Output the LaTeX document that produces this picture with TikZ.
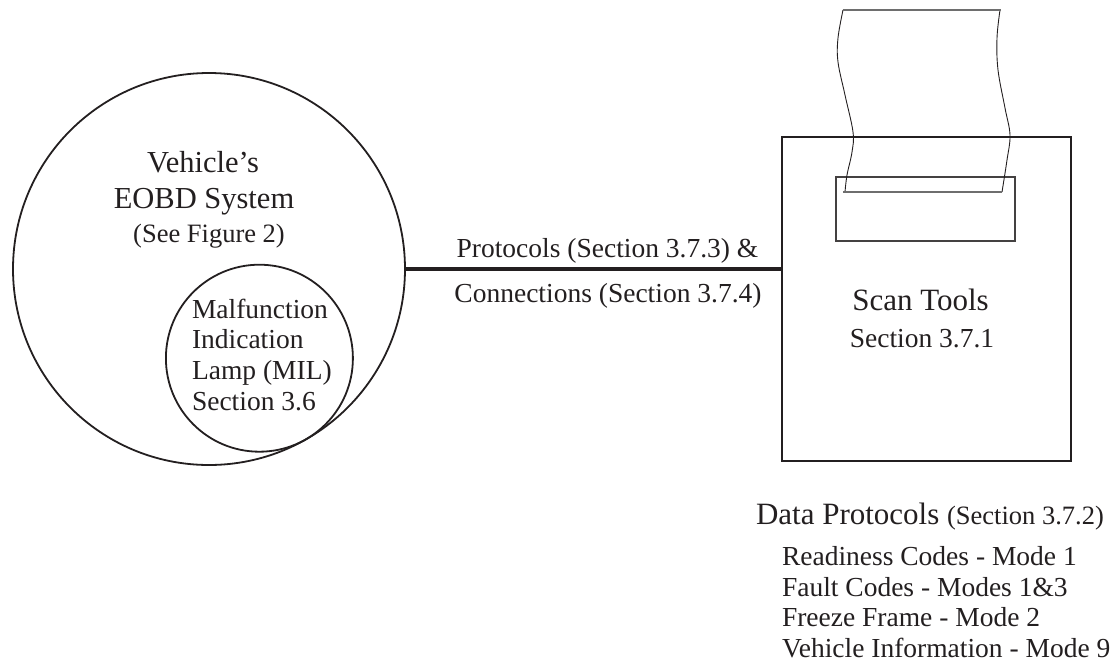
\documentclass[tikz,border=0pt]{standalone}
\usepackage{fontspec}
\setmainfont{Liberation Serif}
\definecolor{ink}{HTML}{231F20}
\definecolor{paper}{HTML}{6E6E6E}
\newcommand\myfs[1]{\fontsize{#1}{#1}\selectfont}
\begin{document}
\begin{tikzpicture}[x=1pt,y=-1pt,
  every node/.style={text=ink, inner sep=0pt, outer sep=0pt},
  ring/.style={circle, draw=ink, line width=1.8pt, minimum size=#1},
  txt/.style={font=\myfs{27.5}},
  big/.style={font=\myfs{30.5}},
  lbl/.style={anchor=base, txt},
  lft/.style={anchor=base west, txt},
  link/.style={draw=ink, line width=4.5pt},
  paperedge/.style={draw=ink, line width=0.9pt},
  paperline/.style={draw=paper, line width=1.4pt}]
\useasboundingbox (0,0) rectangle (1117,662);

% vehicle system circles
\node[ring=392pt] (bc) at (209,269) {};
\node[ring=187pt] (mil) at (259.4,358.2) {};

\node[anchor=base, big] (t1) at (203,172) {Vehicle’s};
\node[anchor=base, big] (t2) at (204,208) {EOBD System};
\node[anchor=base, font=\myfs{26.5}] (t3) at (209,242) {(See Figure 2)};

\node[lft] (m1) at (192,318) {Malfunction};
\node[lft] (m2) at (192,348.7) {Indication};
\node[lft] (m3) at (192,379.4) {Lamp (MIL)};
\node[lft] (m4) at (192,410) {Section 3.6};

% scan tool
\node[draw=ink, line width=2.2pt, minimum width=289pt, minimum height=324pt] (box) at (926.5,299) {};
\node[draw=ink!85, line width=1.1pt, minimum width=179pt, minimum height=64pt] (slot) at (925.5,209) {};

% printout strip
\draw[paperedge] plot[smooth, tension=0.6] coordinates {(843,10) (838,38) (838,62) (845,95) (853,132) (852,152) (847,175) (845,192)};
\draw[paperedge] plot[smooth, tension=0.6] coordinates {(1000,10) (997,38) (998,70) (1005,108) (1010,135) (1007,160) (1002,192)};
\draw[paperline] (843,10) -- (1001,10);
\draw[paperline] (843,192) -- (1002,192);

\node[anchor=base, font=\myfs{31}] (st1) at (920.5,310) {Scan Tools};
\node[lbl] (st2) at (922,347) {Section 3.7.1};

% connection
\draw[link] (bc.east) -- (bc.east -| box.west);
\node[lbl] (c1) at (607.5,257) {Protocols (Section 3.7.3) \&};
\node[lbl] (c2) at (608,302) {Connections (Section 3.7.4)};

% data protocols
\node[anchor=base west, font=\myfs{31}] (d0) at (756,524) {Data Protocols \myfs{26.5}(Section 3.7.2)};
\node[lft] (d1) at (782,565) {Readiness Codes - Mode 1};
\node[lft] (d2) at (782,596) {Fault Codes - Modes 1\&3};
\node[lft] (d3) at (782,626.5) {Freeze Frame - Mode 2};
\node[lft] (d4) at (782,657) {Vehicle Information - Mode 9};
\end{tikzpicture}
\end{document}
